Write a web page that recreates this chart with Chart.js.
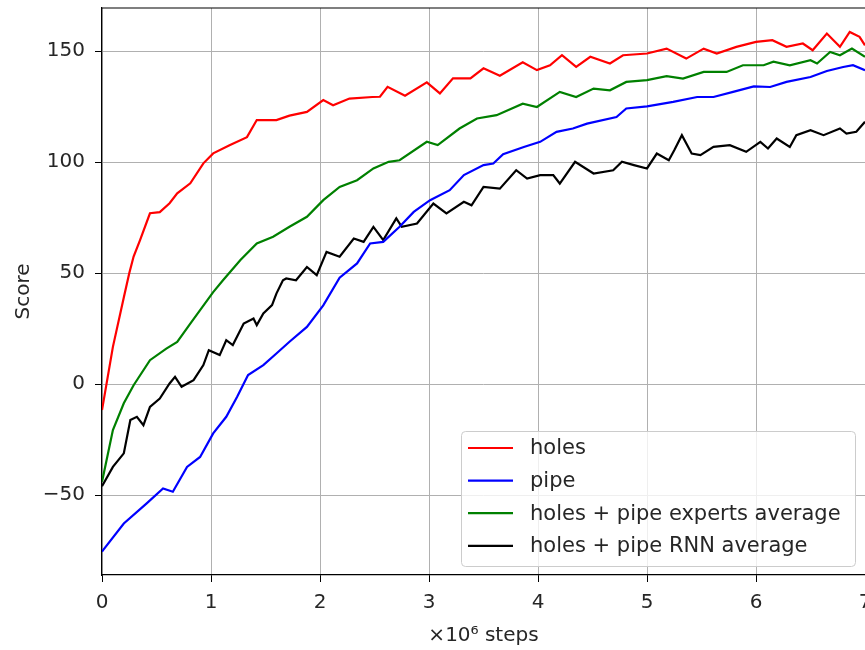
<!DOCTYPE html>
<html>
<head>
<meta charset="utf-8">
<script src="https://cdn.jsdelivr.net/npm/chart.js@4"></script>
<style>
  html, body { margin: 0; padding: 0; background: #fff; overflow: hidden; }
  #wrap { width: 900px; height: 650px; }
</style>
</head>
<body>
<div id="wrap"><canvas id="scoreChart" width="900" height="650"></canvas></div>
<script>
// values (x in 1e6 steps)
const holesSteps = [0, 0.1, 0.2, 0.25, 0.29, 0.35, 0.44, 0.53, 0.62, 0.69, 0.81, 0.93, 1.02, 1.17, 1.33, 1.42, 1.6, 1.72, 1.88, 2.03, 2.12, 2.27, 2.48, 2.55, 2.62, 2.78, 2.98, 3.1, 3.22, 3.38, 3.5, 3.65, 3.86, 3.99, 4.11, 4.22, 4.35, 4.48, 4.66, 4.78, 5.0, 5.18, 5.36, 5.52, 5.64, 5.82, 6.0, 6.15, 6.28, 6.43, 6.52, 6.65, 6.77, 6.86, 6.95, 7.0];
const holesScore = [-11.7, 16.8, 39, 50, 57.5, 65, 77, 77.5, 81.5, 86, 90.5, 99.5, 104, 107.7, 111.3, 119, 119, 121, 122.7, 128, 125.7, 128.7, 129.4, 129.5, 134, 130, 136, 131, 137.8, 137.8, 142.3, 139, 145, 141.5, 143.7, 148.2, 143, 147.5, 144.5, 148.2, 149, 151.2, 146.7, 151.2, 149, 152, 154.2, 155, 152, 153.5, 150.5, 158, 152, 158.7, 156.5, 152.7];

const pipeSteps = [0, 0.01, 0.2, 0.41, 0.56, 0.65, 0.78, 0.9, 1.02, 1.14, 1.24, 1.34, 1.48, 1.6, 1.72, 1.88, 2.03, 2.18, 2.34, 2.46, 2.58, 2.73, 2.86, 3.01, 3.19, 3.32, 3.5, 3.59, 3.68, 3.87, 4.02, 4.17, 4.32, 4.45, 4.72, 4.81, 5.0, 5.24, 5.46, 5.61, 5.79, 5.98, 6.13, 6.28, 6.5, 6.65, 6.8, 6.89, 7.0];
const pipeScore = [-75.5, -74.8, -62.8, -53.7, -47, -48.5, -37.3, -32.8, -22.2, -14.7, -5.7, 4.1, 8.6, 13.8, 19.1, 25.8, 35.5, 48, 54.4, 63.4, 64.1, 70.9, 77.6, 82.9, 87.4, 94.2, 98.7, 99.4, 103.6, 106.9, 109.2, 113.7, 115.2, 117.4, 120.4, 124.2, 125.2, 127.2, 129.4, 129.4, 131.7, 134.2, 133.9, 136.2, 138.4, 141.1, 142.9, 143.7, 141.5];

const expertsSteps = [0, 0.01, 0.1, 0.2, 0.29, 0.44, 0.59, 0.69, 0.81, 1.02, 1.11, 1.27, 1.42, 1.57, 1.72, 1.88, 2.03, 2.18, 2.34, 2.49, 2.63, 2.73, 2.98, 3.08, 3.28, 3.44, 3.62, 3.86, 3.99, 4.2, 4.35, 4.51, 4.66, 4.81, 5.0, 5.18, 5.33, 5.52, 5.73, 5.88, 6.07, 6.16, 6.31, 6.5, 6.56, 6.68, 6.77, 6.88, 7.0];
const expertsScore = [-44, -41.7, -20.7, -8.6, -0.5, 10.8, 16, 19, 27.3, 41.5, 46.8, 55.9, 63.4, 66.4, 70.9, 75.4, 82.9, 88.9, 91.9, 97.2, 100.2, 100.9, 109.2, 107.7, 115.2, 119.7, 121.2, 126.4, 124.9, 131.7, 129.4, 133.2, 132.4, 136.2, 137, 138.8, 137.7, 140.7, 140.7, 143.7, 143.7, 145.3, 143.7, 146, 144.5, 149.7, 148.2, 151.2, 147.5];

const rnnSteps = [0, 0.1, 0.2, 0.26, 0.32, 0.38, 0.44, 0.53, 0.62, 0.67, 0.73, 0.84, 0.93, 0.98, 1.08, 1.14, 1.2, 1.3, 1.39, 1.42, 1.48, 1.56, 1.6, 1.66, 1.69, 1.78, 1.88, 1.97, 2.06, 2.18, 2.31, 2.4, 2.49, 2.58, 2.7, 2.75, 2.89, 3.04, 3.16, 3.32, 3.39, 3.5, 3.65, 3.8, 3.9, 4.02, 4.14, 4.2, 4.34, 4.51, 4.69, 4.77, 4.88, 5.0, 5.09, 5.2, 5.25, 5.32, 5.41, 5.49, 5.61, 5.76, 5.91, 6.04, 6.11, 6.19, 6.31, 6.37, 6.5, 6.62, 6.77, 6.83, 6.92, 7.0];
const rnnScore = [-46, -37.3, -31.2, -16.2, -14.7, -18.5, -10.2, -6.5, 0.3, 3.3, -1.2, 1.8, 8.6, 15.3, 13.1, 19.8, 17.6, 27.3, 29.6, 26.6, 31.9, 35.6, 40.8, 46.8, 47.6, 46.8, 52.8, 49.1, 59.6, 57.4, 65.6, 64.1, 70.9, 64.9, 74.7, 70.9, 72.4, 81.4, 76.9, 82.2, 80.6, 88.9, 88.1, 96.4, 92.6, 94.2, 94.2, 90.4, 100.2, 94.9, 96.4, 100.2, 98.7, 97.2, 103.9, 100.9, 105.4, 112.2, 103.9, 103.2, 106.9, 107.7, 104.7, 109.2, 106.2, 110.7, 106.9, 112.2, 114.4, 112.2, 115.2, 112.9, 113.7, 118.2];

const xTicks = [0, 1, 2, 3, 4, 5, 6, 7];
const yTicks = [-50, 0, 50, 100, 150];

const font = { family: "DejaVu Sans", size: 20 };
const legendFont = { family: "DejaVu Sans", size: 21 };

function pts(xs, ys) {
    return xs.map((x, i) => ({ x: x, y: ys[i] }));
}

// matplotlib style legend inside the lower right of the axes
const boxLegend = {
    id: "boxLegend",
    afterDraw(chart) {
        const ctx = chart.ctx;
        const x0 = 461, y0 = 431, w = 394, h = 135;
        ctx.save();
        ctx.fillStyle = "rgba(255,255,255,0.8)";
        ctx.strokeStyle = "#cccccc";
        ctx.lineWidth = 1;
        ctx.beginPath();
        ctx.roundRect(x0 + 0.5, y0 + 0.5, w, h, 4);
        ctx.fill();
        ctx.stroke();
        ctx.font = legendFont.size + "px " + legendFont.family;
        ctx.textBaseline = "middle";
        chart.data.datasets.forEach((ds, i) => {
            const y = y0 + 17 + i * 32.6;
            ctx.strokeStyle = ds.borderColor;
            ctx.lineWidth = 2.2;
            ctx.beginPath();
            ctx.moveTo(468, y);
            ctx.lineTo(513, y);
            ctx.stroke();
            ctx.fillStyle = "#262626";
            ctx.fillText(ds.label, 530, y + 1);
        });
        ctx.restore();
    }
};

const frameTop = {
    id: "frameTop",
    afterDatasetsDraw(chart) {
        const a = chart.chartArea;
        const ctx = chart.ctx;
        ctx.save();
        ctx.strokeStyle = "#000";
        ctx.lineWidth = 1.2;
        ctx.beginPath();
        ctx.moveTo(a.left, a.top);
        ctx.lineTo(a.right, a.top);
        ctx.stroke();
        ctx.restore();
    }
};

new Chart(document.getElementById("scoreChart"), {
    type: "line",
    data: {
        datasets: [
            { label: "holes", data: pts(holesSteps, holesScore), borderColor: "#ff0000" },
            { label: "pipe", data: pts(pipeSteps, pipeScore), borderColor: "#0000ff" },
            { label: "holes + pipe experts average", data: pts(expertsSteps, expertsScore), borderColor: "#008000" },
            { label: "holes + pipe RNN average", data: pts(rnnSteps, rnnScore), borderColor: "#000000" }
        ]
    },
    options: {
        responsive: false,
        animation: false,
        layout: { padding: { top: 8, right: 35, left: 0, bottom: 0 } },
        elements: {
            point: { radius: 0 },
            line: { borderWidth: 2.2, tension: 0 }
        },
        plugins: {
            legend: { display: false },
            tooltip: { enabled: false }
        },
        scales: {
            x: {
                type: "linear",
                min: 0,
                max: 7,
                afterBuildTicks: s => { s.ticks = xTicks.map(v => ({ value: v })); },
                afterFit: s => { s.height = 75; s.paddingLeft = 0; s.paddingRight = 0; },
                grid: { color: "#b0b0b0", lineWidth: 1, tickColor: "#000", tickLength: 7 },
                border: { color: "#000", width: 1.2 },
                ticks: { font: font, color: "#262626", padding: 9, maxRotation: 0 },
                title: { display: true, text: "×10⁶ steps", font: font, color: "#262626", padding: { top: 0, bottom: 2 } }
            },
            y: {
                min: -86,
                max: 169.5,
                afterBuildTicks: s => { s.ticks = yTicks.map(v => ({ value: v })); },
                afterFit: s => { s.width = 102; s.paddingTop = 0; s.paddingBottom = 0; },
                grid: { color: "#b0b0b0", lineWidth: 1, tickColor: "#000", tickLength: 7 },
                border: { color: "#000", width: 1.2 },
                ticks: {
                    font: font, color: "#262626", padding: 10,
                    callback: v => v < 0 ? "\u2212" + Math.abs(v) : String(v)
                },
                title: { display: true, text: "Score", font: font, color: "#262626", padding: { top: 12, bottom: 0 } }
            }
        }
    },
    plugins: [frameTop, boxLegend]
});
</script>
</body>
</html>
